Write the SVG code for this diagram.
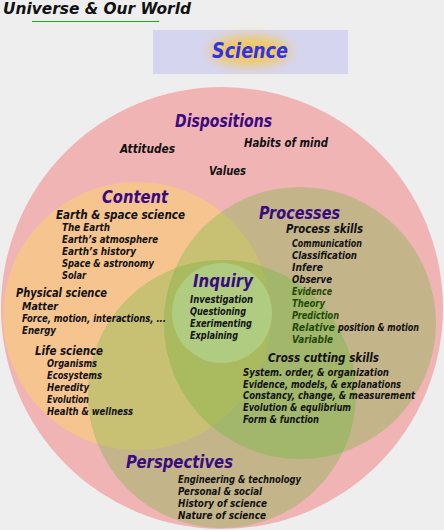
<svg xmlns="http://www.w3.org/2000/svg" width="444" height="530" viewBox="0 0 444 530">
<style>
text{font-family:"DejaVu Sans","Liberation Sans",sans-serif;font-style:italic;font-weight:bold;fill:#111;}
.h{font-size:17px;fill:#3a0a80;}
.s{font-size:11.5px;}
.t{font-size:10.5px;}
.g{fill:#1e4a06;}
</style>
<defs>
<clipPath id="cC"><circle cx="137" cy="316" r="134"/></clipPath>
<clipPath id="cP"><circle cx="300" cy="323" r="136"/></clipPath>
<filter id="blur" x="-50%" y="-50%" width="200%" height="200%"><feGaussianBlur stdDeviation="6"/></filter>
</defs>
<rect width="444" height="530" fill="#eeeeee"/>
<g id="regions">
<circle cx="222" cy="308" r="221" fill="#f0b4b4"/>
<circle cx="137" cy="316" r="134" fill="#f6c48f"/>
<circle cx="300" cy="323" r="136" fill="#c4b48a"/>
<circle cx="222" cy="394" r="134" fill="#c4b48a"/>
<circle cx="300" cy="323" r="136" fill="#c8c072" clip-path="url(#cC)"/>
<circle cx="222" cy="394" r="134" fill="#c8c072" clip-path="url(#cC)"/>
<circle cx="222" cy="394" r="134" fill="#a2b66c" clip-path="url(#cP)"/>
<g clip-path="url(#cC)"><circle cx="222" cy="394" r="134" fill="#a9bb5e" clip-path="url(#cP)"/></g>
<circle cx="222" cy="313" r="50" fill="#b0cc80"/>
</g>
<g id="title">
<text x="3" y="14" font-size="15" textLength="188" lengthAdjust="spacingAndGlyphs">Universe &amp; Our World</text>
<line x1="32" y1="21.5" x2="159" y2="21.5" stroke="#22aa22" stroke-width="1"/>
</g>
<g id="science">
<rect x="153" y="30" width="195" height="44" fill="#d5d5f0"/>
<ellipse cx="250" cy="51" rx="40" ry="15" fill="#f0c860" filter="url(#blur)"/>
<text x="212" y="58" font-size="21" style="fill:#3232e6" textLength="76" lengthAdjust="spacingAndGlyphs">Science</text>
</g>
<g id="dispositions">
<text class="h" x="175" y="127" textLength="97" lengthAdjust="spacingAndGlyphs">Dispositions</text>
<text class="s" x="120" y="153" textLength="55" lengthAdjust="spacingAndGlyphs">Attitudes</text>
<text class="s" x="244" y="147" textLength="84" lengthAdjust="spacingAndGlyphs">Habits of mind</text>
<text class="s" x="209" y="175" textLength="37" lengthAdjust="spacingAndGlyphs">Values</text>
</g>
<g id="content">
<text class="h" x="102" y="203" textLength="66" lengthAdjust="spacingAndGlyphs">Content</text>
<text class="s" x="56" y="219" textLength="129" lengthAdjust="spacingAndGlyphs">Earth &amp; space science</text>
<text class="t" x="62" y="231" textLength="48" lengthAdjust="spacingAndGlyphs">The Earth</text>
<text class="t" x="62" y="243" textLength="96" lengthAdjust="spacingAndGlyphs">Earth’s atmosphere</text>
<text class="t" x="62" y="255" textLength="74" lengthAdjust="spacingAndGlyphs">Earth’s history</text>
<text class="t" x="62" y="267" textLength="92" lengthAdjust="spacingAndGlyphs">Space &amp; astronomy</text>
<text class="t" x="62" y="279" textLength="24" lengthAdjust="spacingAndGlyphs">Solar</text>
<text class="s" x="16" y="297" textLength="91" lengthAdjust="spacingAndGlyphs">Physical science</text>
<text class="t" x="22" y="310" textLength="36" lengthAdjust="spacingAndGlyphs">Matter</text>
<text class="t" x="22" y="322" textLength="144" lengthAdjust="spacingAndGlyphs">Force, motion, interactions, ...</text>
<text class="t" x="22" y="334" textLength="34" lengthAdjust="spacingAndGlyphs">Energy</text>
<text class="s" x="35" y="355" textLength="68" lengthAdjust="spacingAndGlyphs">Life science</text>
<text class="t" x="47" y="367" textLength="50" lengthAdjust="spacingAndGlyphs">Organisms</text>
<text class="t" x="47" y="379" textLength="55" lengthAdjust="spacingAndGlyphs">Ecosystems</text>
<text class="t" x="47" y="391" textLength="42" lengthAdjust="spacingAndGlyphs">Heredity</text>
<text class="t" x="47" y="403" textLength="42" lengthAdjust="spacingAndGlyphs">Evolution</text>
<text class="t" x="47" y="415" textLength="86" lengthAdjust="spacingAndGlyphs">Health &amp; wellness</text>
</g>
<g id="processes">
<text class="h" x="259" y="219" textLength="81" lengthAdjust="spacingAndGlyphs">Processes</text>
<text class="s" x="286" y="233" textLength="77" lengthAdjust="spacingAndGlyphs">Process skills</text>
<text class="t" x="292" y="247" textLength="70" lengthAdjust="spacingAndGlyphs">Communication</text>
<text class="t" x="292" y="259" textLength="65" lengthAdjust="spacingAndGlyphs">Classification</text>
<text class="t" x="292" y="271" textLength="31" lengthAdjust="spacingAndGlyphs">Infere</text>
<text class="t" x="292" y="283" textLength="40" lengthAdjust="spacingAndGlyphs">Observe</text>
<text class="t g" x="292" y="295" textLength="40" lengthAdjust="spacingAndGlyphs">Evidence</text>
<text class="t g" x="292" y="307" textLength="33" lengthAdjust="spacingAndGlyphs">Theory</text>
<text class="t g" x="292" y="319" textLength="47" lengthAdjust="spacingAndGlyphs">Prediction</text>
<text class="t g" x="292" y="331" textLength="43" lengthAdjust="spacingAndGlyphs">Relative</text>
<text class="t" x="338" y="331" textLength="81" lengthAdjust="spacingAndGlyphs">position &amp; motion</text>
<text class="t g" x="292" y="343" textLength="41" lengthAdjust="spacingAndGlyphs">Variable</text>
<text class="s" x="268" y="362" textLength="111" lengthAdjust="spacingAndGlyphs">Cross cutting skills</text>
<text class="t" x="243" y="376" textLength="146" lengthAdjust="spacingAndGlyphs">System. order, &amp; organization</text>
<text class="t" x="243" y="388" textLength="158" lengthAdjust="spacingAndGlyphs">Evidence, models, &amp; explanations</text>
<text class="t" x="243" y="399" textLength="172" lengthAdjust="spacingAndGlyphs">Constancy, change, &amp; measurement</text>
<text class="t" x="243" y="411" textLength="108" lengthAdjust="spacingAndGlyphs">Evolution &amp; equlibrium</text>
<text class="t" x="243" y="423" textLength="76" lengthAdjust="spacingAndGlyphs">Form &amp; function</text>
</g>
<g id="inquiry">
<text class="h" x="193" y="287" font-size="18" textLength="60" lengthAdjust="spacingAndGlyphs">Inquiry</text>
<text class="t" x="190" y="303" textLength="63" lengthAdjust="spacingAndGlyphs">Investigation</text>
<text class="t" x="190" y="315" textLength="56" lengthAdjust="spacingAndGlyphs">Questioning</text>
<text class="t" x="190" y="327" textLength="62" lengthAdjust="spacingAndGlyphs">Exerimenting</text>
<text class="t" x="190" y="339" textLength="48" lengthAdjust="spacingAndGlyphs">Explaining</text>
</g>
<g id="perspectives">
<text class="h" x="126" y="468" textLength="107" lengthAdjust="spacingAndGlyphs">Perspectives</text>
<text class="t" x="178" y="483" textLength="123" lengthAdjust="spacingAndGlyphs">Engineering &amp; technology</text>
<text class="t" x="178" y="495" textLength="84" lengthAdjust="spacingAndGlyphs">Personal &amp; social</text>
<text class="t" x="178" y="507" textLength="89" lengthAdjust="spacingAndGlyphs">History of science</text>
<text class="t" x="178" y="519" textLength="88" lengthAdjust="spacingAndGlyphs">Nature of science</text>
</g>
<g id="connectors"></g>
</svg>
